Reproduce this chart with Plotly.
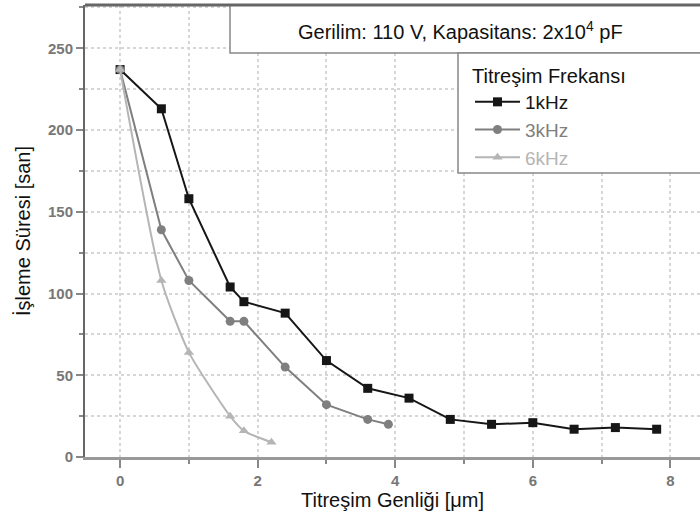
import plotly.graph_objects as go

# Data
x_1k = [0, 0.6, 1.0, 1.6, 1.8, 2.4, 3.0, 3.6, 4.2, 4.8, 5.4, 6.0, 6.6, 7.2, 7.8]
y_1k = [237, 213, 158, 104, 95, 88, 59, 42, 36, 23, 20, 21, 17, 18, 17]
x_3k = [0, 0.6, 1.0, 1.6, 1.8, 2.4, 3.0, 3.6, 3.9]
y_3k = [237, 139, 108, 83, 83, 55, 32, 23, 20]
x_6k = [0, 0.6, 1.0, 1.6, 1.8, 2.2]
y_6k = [237, 108, 64, 25, 16, 9]

series_names = ["1kHz", "3kHz", "6kHz"]
x_ticks = [0, 2, 4, 6, 8]
y_ticks = [0, 50, 100, 150, 200, 250]

colors = ["#161616", "#7f7f7f", "#b5b5b5"]
symbols = ["square", "circle", "triangle-up"]
shapes_line = ["linear", "linear", "spline"]

fig = go.Figure()
for xs, ys, name, c, s, ls in zip([x_1k, x_3k, x_6k], [y_1k, y_3k, y_6k], series_names, colors, symbols, shapes_line):
    fig.add_trace(go.Scatter(
        x=xs, y=ys, mode="lines+markers",
        name=f"<span style='color:{c}'>{name}</span>",
        line=dict(color=c, width=2, shape=ls, smoothing=0.6),
        marker=dict(symbol=s, size=9, color=c),
    ))

grid = "#d6d6d6"
fig.update_layout(
    width=700, height=520,
    margin=dict(l=85, r=0, t=5, b=63),
    paper_bgcolor="white", plot_bgcolor="white",
    font=dict(family="Liberation Sans, Arial, sans-serif", color="#111"),
    showlegend=True,
    legend=dict(
        x=0.626, y=0.885, xanchor="left", yanchor="top",
        bgcolor="rgba(0,0,0,0)", borderwidth=0,
        title=dict(text="Titreşim Frekansı", font=dict(size=20, color="#111")),
        font=dict(size=19, color="#333"),
        itemwidth=45,
    ),
    xaxis=dict(
        range=[-0.51, 8.43], tickvals=x_ticks, ticktext=[str(v) for v in x_ticks],
        ticks="outside", ticklen=8, tickwidth=2, tickcolor="#888",
        tickfont=dict(size=15, color="#777", family="Liberation Sans, Arial, sans-serif", weight="bold"),
        showline=True, linecolor="#999", linewidth=3,
        showgrid=True, gridcolor=grid, griddash="dot", gridwidth=1.5,
        zeroline=False,
        minor=dict(dtick=1, tick0=0, ticks="outside", ticklen=4, tickcolor="#888",
                   showgrid=True, gridcolor=grid, griddash="dot", gridwidth=1.5),
        title=dict(text="Titreşim Genliği [μm]", font=dict(size=20, color="#111"), standoff=2),
    ),
    yaxis=dict(
        range=[0, 276.5], tickvals=y_ticks, ticktext=[str(v) for v in y_ticks],
        ticks="outside", ticklen=7, tickwidth=2, tickcolor="#888",
        tickfont=dict(size=15, color="#777", family="Liberation Sans, Arial, sans-serif", weight="bold"),
        showline=True, linecolor="#666", linewidth=2,
        showgrid=True, gridcolor=grid, griddash="dot", gridwidth=1.5,
        zeroline=False,
        minor=dict(dtick=25, tick0=0, ticks="outside", ticklen=4, tickcolor="#888",
                   showgrid=True, gridcolor=grid, griddash="dot", gridwidth=1.5),
        title=dict(text="İşleme Süresi [san]", font=dict(size=20, color="#111"), standoff=12),
    ),
)

# Title box
fig.add_shape(type="rect", xref="paper", yref="paper", x0=0.2358, x1=1.02, y0=0.8938, y1=1.0,
              line=dict(color="#888", width=1.5), fillcolor="white", layer="above")
fig.add_annotation(xref="paper", yref="paper", x=0.61, y=(457 - 31) / 452, yanchor="middle",
                   showarrow=False,
                   text="Gerilim: 110 V, Kapasitans: 2x10<sup>4</sup> pF",
                   font=dict(size=20, color="#111"))
# Legend box
fig.add_shape(type="rect", xref="paper", yref="paper", x0=0.6065, x1=1.02, y0=0.6283, y1=0.8938,
              line=dict(color="#888", width=1.5), fillcolor="white", layer="above")
# Top frame line
fig.add_shape(type="line", xref="paper", yref="paper", x0=0, x1=1.02, y0=1, y1=1,
              line=dict(color="#666", width=3), layer="above")

fig.write_html("out.html")
